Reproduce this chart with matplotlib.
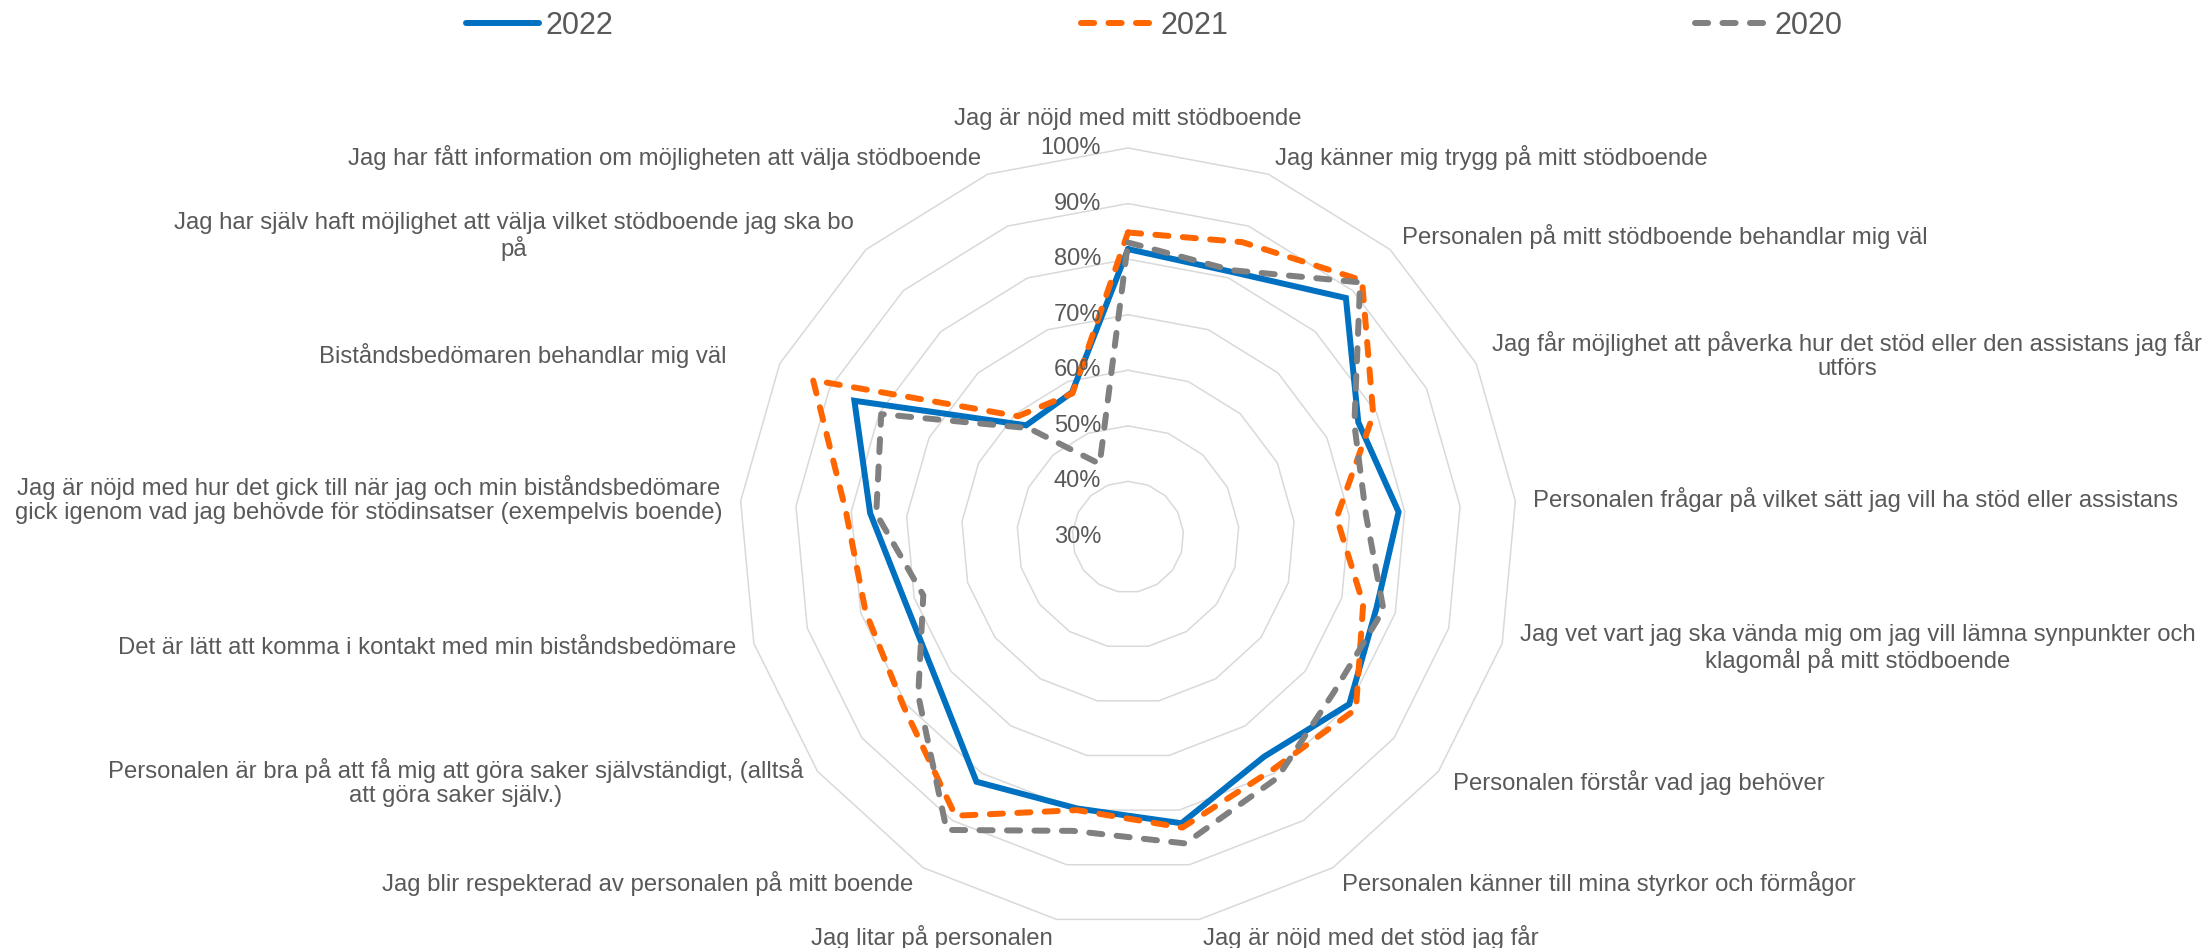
import numpy as np
import matplotlib
matplotlib.use("Agg")
import matplotlib.pyplot as plt

# ---------------- data ----------------
categories = [
    "Jag är nöjd med mitt stödboende",
    "Jag känner mig trygg på mitt stödboende",
    "Personalen på mitt stödboende behandlar mig väl",
    "Jag får möjlighet att påverka hur det stöd eller den assistans jag får\nutförs",
    "Personalen frågar på vilket sätt jag vill ha stöd eller assistans",
    "Jag vet vart jag ska vända mig om jag vill lämna synpunkter och\nklagomål på mitt stödboende",
    "Personalen förstår vad jag behöver",
    "Personalen känner till mina styrkor och förmågor",
    "Jag är nöjd med det stöd jag får",
    "Jag litar på personalen",
    "Jag blir respekterad av personalen på mitt boende",
    "Personalen är bra på att få mig att göra saker självständigt, (alltså\natt göra saker själv.)",
    "Det är lätt att komma i kontakt med min biståndsbedömare",
    "Jag är nöjd med hur det gick till när jag och min biståndsbedömare\ngick igenom vad jag behövde för stödinsatser (exempelvis boende)",
    "Biståndsbedömaren behandlar mig väl",
    "Jag har själv haft möjlighet att välja vilket stödboende jag ska bo\npå",
    "Jag har fått information om möjligheten att välja stödboende",
]

years = ["2022", "2021", "2020"]

v2022 = [0.818, 0.812, 0.882, 0.763, 0.789, 0.765, 0.799, 0.765, 0.824,
         0.797, 0.818, 0.731, 0.718, 0.766, 0.850, 0.572, 0.579]
v2021 = [0.848, 0.869, 0.925, 0.793, 0.677, 0.740, 0.814, 0.793, 0.832,
         0.800, 0.890, 0.806, 0.791, 0.810, 0.933, 0.594, 0.577]
v2020 = [0.830, 0.815, 0.920, 0.755, 0.730, 0.778, 0.764, 0.810, 0.861,
         0.838, 0.920, 0.773, 0.683, 0.755, 0.796, 0.565, 0.441]

ticks = [0.3, 0.4, 0.5, 0.6, 0.7, 0.8, 0.9, 1.0]
tick_labels = ["30%", "40%", "50%", "60%", "70%", "80%", "90%", "100%"]

# ---------------- style ----------------
plt.rcParams["font.family"] = ["Liberation Sans", "DejaVu Sans"]
TEXT = "#595959"
GRID = "#D9D9D9"
colors = ["#0070C0", "#FF6600", "#808080"]
LW = 4.3
dash = (0, (2.2, 2.4))

fig = plt.figure(figsize=(22.09, 9.48), dpi=100)
ax = fig.add_axes([0.33454, 0.02321, 0.35220, 0.82068], projection="polar")
ax.set_theta_offset(np.pi / 2)
ax.set_theta_direction(-1)
ax.set_ylim(ticks[0], ticks[-1])
ax.grid(False)
ax.set_xticks([])
ax.set_yticks([])
ax.spines["polar"].set_visible(False)
ax.set_facecolor("none")

n = len(categories)
theta = np.arange(n) * 2 * np.pi / n
tc = np.append(theta, theta[0])

# polygon gridlines
for t in ticks[1:]:
    ax.plot(tc, [t] * (n + 1), color=GRID, lw=1.1, zorder=1, clip_on=False)

# series
series = [v2022, v2021, v2020]
handles = []
for i, (vals, yr, c) in enumerate(zip(series, years, colors)):
    vv = list(vals) + [vals[0]]
    if i == 0:
        ln, = ax.plot(tc, vv, color=c, lw=LW, solid_joinstyle="miter",
                      solid_capstyle="round", zorder=3 + i, clip_on=False, label=yr)
    else:
        ln, = ax.plot(tc, vv, color=c, lw=LW, linestyle=dash,
                      dash_capstyle="round", dash_joinstyle="round",
                      zorder=3 + i, clip_on=False, label=yr)
    handles.append(ln)

# radial tick labels
for t, lab in zip(ticks, tick_labels):
    ax.annotate(lab, xy=(0, t), xytext=(-19.4, 0), textcoords="offset points",
                ha="right", va="center", fontsize=17, color=TEXT,
                annotation_clip=False, zorder=6)

# category labels
OFF = 13.0
extra = {14: (-27.0, 0.0)}
for k, (th, lab) in enumerate(zip(theta, categories)):
    s, c = np.sin(th), np.cos(th)
    dx, dy = OFF * s, OFF * c
    ex = extra.get(k, (0.0, 0.0))
    dx += ex[0]
    dy += ex[1]
    if abs(s) < 0.05:
        ha = "center"
        va = "bottom" if c > 0 else "top"
    else:
        ha = "left" if s > 0 else "right"
        va = "center"
    ax.annotate(lab, xy=(th, ticks[-1]), xytext=(dx, dy), textcoords="offset points",
                ha=ha, va=va, multialignment="center", linespacing=1.1,
                fontsize=17.2, color=TEXT, annotation_clip=False)

# legend
fig.legend(handles, years, loc="center", bbox_to_anchor=(0.5226, 0.9726),
           ncol=3, frameon=False, fontsize=22, handlelength=2.4,
           handletextpad=0.2, columnspacing=15.3, labelcolor=TEXT)

fig.savefig("out.png", dpi=100)
